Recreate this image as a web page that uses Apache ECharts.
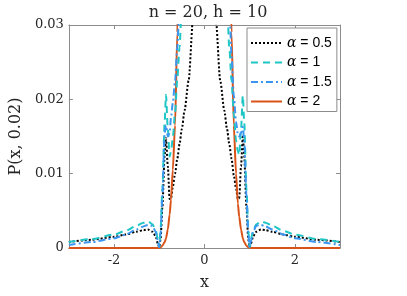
<!DOCTYPE html>
<html>
<head>
<meta charset="utf-8">
<script src="https://cdn.jsdelivr.net/npm/echarts@6/dist/echarts.min.js"></script>
<style>html,body{margin:0;padding:0;background:#fff}#c{width:407px;height:296px}</style>
</head>
<body>
<div id="c"></div>
<script>
var titleText = 'n = 20, h = 10';
var xLabel = 'x';
var yLabel = 'P(x, 0.02)';
var xTicks = [-2, 0, 2];
var yTicks = [0, 0.01, 0.02, 0.03];
var seriesNames = ['0.5', '1', '1.5', '2'];

var xVals = [-3,-2.5,-2,-1.75,-1.5,-1.35,-1.25,-1.15,-1.08,-1.03,-1,-0.97,-0.93,-0.88,-0.85,-0.81,-0.77,-0.74,-0.7,-0.65,-0.6,-0.55,-0.5,-0.44,-0.35,-0.25,-0.15,
  0,
  0.15,0.25,0.35,0.44,0.5,0.55,0.6,0.65,0.7,0.74,0.77,0.81,0.85,0.88,0.93,0.97,1,1.03,1.08,1.15,1.25,1.35,1.5,1.75,2,2.5,3];

var alpha05 = [0.0008,0.0011,0.0015,0.0018,0.0022,0.0024,0.0025,0.0022,0.0016,0.0006,0.0001,0.0012,0.0055,0.0125,0.0148,0.011,0.0066,0.0066,0.0082,0.0100,0.0120,0.0140,0.0160,0.0185,0.0225,0.031,0.05,
  0.09,
  0.05,0.031,0.0225,0.0185,0.016,0.014,0.012,0.0098,0.008,0.0066,0.0067,0.011,0.0152,0.0125,0.0055,0.0012,0.0001,0.0006,0.0016,0.0022,0.0025,0.0024,0.0022,0.0018,0.0015,0.0011,0.0008];

var alpha1 = [0.0008,0.0012,0.0018,0.0023,0.003,0.0034,0.0036,0.0032,0.0024,0.0012,0.0001,0.0025,0.008,0.017,0.0206,0.016,0.0123,0.013,0.0148,0.0182,0.0228,0.027,0.033,0.04,0.055,0.09,0.15,
  0.3,
  0.15,0.09,0.055,0.04,0.033,0.027,0.0225,0.018,0.0145,0.013,0.0125,0.016,0.0205,0.017,0.008,0.0025,0.0001,0.0012,0.0024,0.0032,0.0036,0.0034,0.003,0.0023,0.0018,0.0012,0.0008];

var alpha15 = [0.0004,0.0008,0.0013,0.0018,0.0025,0.0029,0.0031,0.003,0.0022,0.001,0.0001,0.002,0.007,0.0155,0.0165,0.015,0.0155,0.0175,0.0195,0.0225,0.027,0.033,0.042,0.06,0.1,0.18,0.3,
  0.5,
  0.3,0.18,0.1,0.06,0.042,0.033,0.026,0.0205,0.017,0.0153,0.015,0.0155,0.0163,0.0145,0.007,0.002,0.0001,0.001,0.0022,0.003,0.0031,0.0029,0.0025,0.0018,0.0013,0.0008,0.0004];

var alpha2 = [0,0,0,0,0,0,0,0,0,0,0,0.0001,0.0003,0.0008,0.0013,0.0025,0.0045,0.0065,0.0105,0.0165,0.029,0.045,0.07,0.12,0.25,0.45,0.7,
  1.0,
  0.7,0.45,0.25,0.12,0.07,0.045,0.029,0.0165,0.01,0.006,0.0042,0.0025,0.0013,0.0008,0.0003,0.0001,0,0,0,0,0,0,0,0,0,0,0];

function pairs(ys){ return xVals.map(function(x,i){ return [x, ys[i]]; }); }

var serif = 'DejaVu Serif';
var axisGray = '#8c8c8c';
var txt = '#262626';

var styles = [
  {color:'#000000', type:[2,2]},
  {color:'#1fc6c6', type:[7,5]},
  {color:'#3a96f0', type:[7,3,2,3]},
  {color:'#d95319', type:'solid'}
];
var dataSets = [alpha05, alpha1, alpha15, alpha2];

var series = dataSets.map(function(ys, i){
  return {
    name: 'α = ' + seriesNames[i],
    type: 'line',
    data: pairs(ys),
    symbol: 'none',
    smooth: 0.25,
    smoothMonotone: 'x',
    clip: true,
    lineStyle: {color: styles[i].color, width: 2, type: styles[i].type},
    itemStyle: {color: styles[i].color},
    z: 2 + (i === 3 ? 0 : i)
  };
});

var chart = echarts.init(document.getElementById('c'), null, {renderer:'canvas'});
chart.setOption({
  animation: false,
  backgroundColor: '#ffffff',
  title: {
    text: titleText, left: 203, top: 0, textAlign: 'center',
    textStyle: {fontFamily: serif, fontSize: 16, fontWeight: 'normal', color: txt}
  },
  grid: {left: 67, right: 67, top: 25, bottom: 48, containLabel: false},
  legend: {
    orient: 'vertical', left: 247, top: 28,
    padding: [8, 5, 3, 3], itemGap: 5.5, itemWidth: 31, itemHeight: 14,
    backgroundColor: '#ffffff', borderColor: axisGray, borderWidth: 1,
    itemStyle: {opacity: 0},
    textStyle: {fontFamily: 'Liberation Sans', fontSize: 14, color: '#000',
      rich: {a: {fontFamily: serif, fontStyle: 'italic', fontSize: 14, color: '#000'}}},
    formatter: function(n){ return '{a|α}' + n.slice(1); },
    data: series.map(function(s){ return s.name; })
  },
  xAxis: [{
    type: 'value', min: -3, max: 3, position: 'bottom',
    name: xLabel, nameLocation: 'middle', nameGap: 27,
    nameTextStyle: {fontFamily: serif, fontSize: 16, color: txt},
    axisLine: {show: true, onZero: false, lineStyle: {color: axisGray, width: 1}},
    axisTick: {show: true, inside: true, length: 4, customValues: xTicks, lineStyle: {color: axisGray}},
    axisLabel: {customValues: xTicks, fontFamily: serif, fontSize: 13, color: txt, margin: 6},
    splitLine: {show: false}
  }, {
    type: 'value', min: -3, max: 3, position: 'top',
    axisLine: {show: true, onZero: false, lineStyle: {color: axisGray, width: 1}},
    axisTick: {show: true, inside: true, length: 4, customValues: xTicks, lineStyle: {color: axisGray}},
    axisLabel: {show: false},
    splitLine: {show: false}
  }],
  yAxis: [{
    type: 'value', min: 0, max: 0.03, interval: 0.01, position: 'left',
    name: yLabel, nameLocation: 'middle', nameGap: 41, nameRotate: 90,
    nameTextStyle: {fontFamily: serif, fontSize: 16, color: txt},
    axisLine: {show: true, onZero: false, lineStyle: {color: axisGray, width: 1}},
    axisTick: {show: true, inside: true, length: 4, lineStyle: {color: axisGray}},
    axisLabel: {fontFamily: serif, fontSize: 13, color: txt, margin: 5,
      formatter: function(v){ return v === 0 ? '0' : v.toFixed(2); }},
    splitLine: {show: false}
  }, {
    type: 'value', min: 0, max: 0.03, interval: 0.01, position: 'right',
    axisLine: {show: true, onZero: false, lineStyle: {color: axisGray, width: 1}},
    axisTick: {show: true, inside: true, length: 4, lineStyle: {color: axisGray}},
    axisLabel: {show: false},
    splitLine: {show: false}
  }],
  series: series
});
</script>
</body>
</html>
